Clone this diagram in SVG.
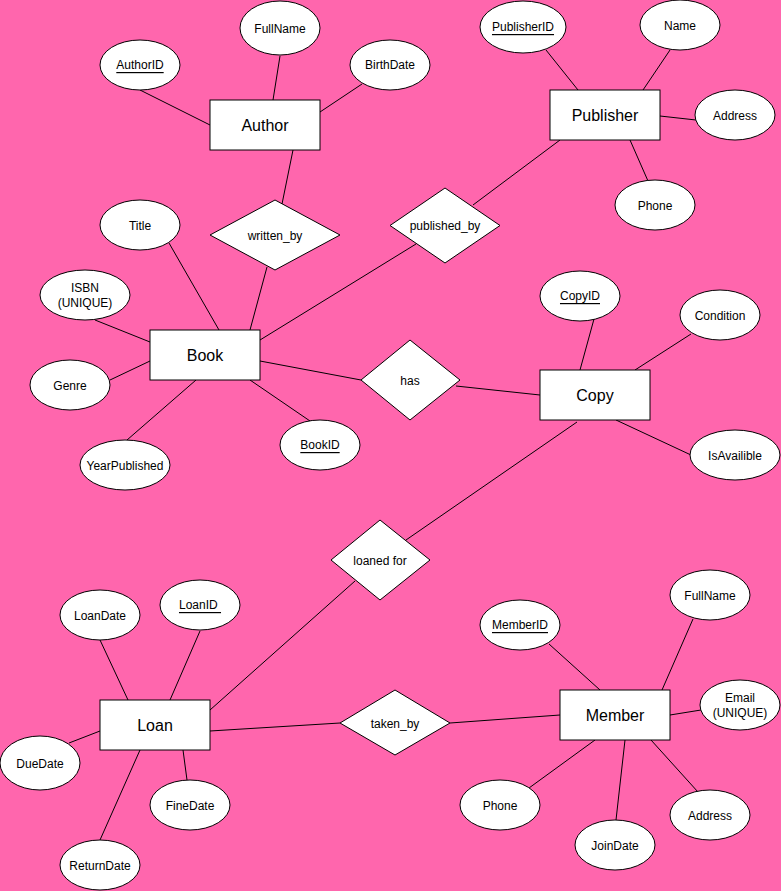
<svg xmlns="http://www.w3.org/2000/svg" width="781" height="891" viewBox="0 0 781 891">
<style>
.e{fill:#fff;stroke:#000;stroke-width:1}
.r{fill:#fff;stroke:#000;stroke-width:1}
.d{fill:#fff;stroke:#000;stroke-width:1}
.c line{stroke:#000;stroke-width:1}
text{font-family:"Liberation Sans",Arial,Helvetica,sans-serif;fill:#000;text-anchor:middle;dominant-baseline:central}
.a{font-size:12px}
.t{font-size:16px}
.u{text-decoration:underline}
</style>
<rect x="0" y="0" width="781" height="891" fill="#ff66ad"/>
<g id="connectors" class="c">
<line x1="140" y1="90" x2="210" y2="125"/>
<line x1="280" y1="56" x2="273" y2="100"/>
<line x1="362" y1="84" x2="320" y2="112"/>
<line x1="293" y1="150" x2="282" y2="204"/>
<line x1="267" y1="267" x2="250" y2="330"/>
<line x1="169" y1="243" x2="219" y2="330"/>
<line x1="260" y1="340" x2="416" y2="244"/>
<line x1="560" y1="140" x2="473" y2="205"/>
<line x1="546" y1="50" x2="578" y2="90"/>
<line x1="670" y1="50" x2="643" y2="90"/>
<line x1="660" y1="116" x2="696" y2="120"/>
<line x1="630" y1="140" x2="648" y2="181"/>
<line x1="95" y1="320" x2="150" y2="342"/>
<line x1="110" y1="380" x2="150" y2="361"/>
<line x1="127" y1="440" x2="196" y2="380"/>
<line x1="310" y1="421" x2="250" y2="380"/>
<line x1="260" y1="361" x2="361" y2="380"/>
<line x1="456" y1="386" x2="540" y2="395"/>
<line x1="594" y1="319" x2="580" y2="370"/>
<line x1="691" y1="334" x2="635" y2="370"/>
<line x1="616" y1="420" x2="691" y2="455"/>
<line x1="577" y1="422" x2="406" y2="540"/>
<line x1="355" y1="581" x2="210" y2="710"/>
<line x1="100" y1="640" x2="128" y2="700"/>
<line x1="200" y1="631" x2="170" y2="700"/>
<line x1="69" y1="743" x2="100" y2="731"/>
<line x1="183" y1="750" x2="187" y2="780"/>
<line x1="140" y1="750" x2="100" y2="840"/>
<line x1="210" y1="731" x2="340" y2="723"/>
<line x1="450" y1="723" x2="560" y2="715"/>
<line x1="549" y1="644" x2="600" y2="690"/>
<line x1="693" y1="619" x2="662" y2="690"/>
<line x1="670" y1="715" x2="701" y2="710"/>
<line x1="595" y1="740" x2="529" y2="788"/>
<line x1="625" y1="740" x2="616" y2="820"/>
<line x1="651" y1="740" x2="698" y2="792"/>
</g>
<g id="author"><rect class="r" x="210" y="100" width="110" height="50"/><text class="t" x="265" y="125">Author</text></g>
<g id="author-id"><ellipse class="e" cx="140" cy="65" rx="40" ry="25"/><text class="a u" x="140" y="65">AuthorID</text></g>
<g id="author-fullname"><ellipse class="e" cx="280" cy="28" rx="40" ry="27"/><text class="a" x="280" y="29">FullName</text></g>
<g id="author-birthdate"><ellipse class="e" cx="390" cy="65" rx="40" ry="25"/><text class="a" x="390" y="65">BirthDate</text></g>
<g id="written-by"><polygon class="d" points="210,235 275,200 340,235 275,270"/><text class="a" x="275" y="236">written_by</text></g>
<g id="publisher"><rect class="r" x="550" y="90" width="110" height="50"/><text class="t" x="605" y="115">Publisher</text></g>
<g id="publisher-id"><ellipse class="e" cx="523" cy="27" rx="43" ry="26"/><text class="a u" x="523" y="27">PublisherID</text></g>
<g id="publisher-name"><ellipse class="e" cx="680" cy="25" rx="40" ry="25"/><text class="a" x="680" y="26">Name</text></g>
<g id="publisher-address"><ellipse class="e" cx="735" cy="115" rx="40" ry="25"/><text class="a" x="735" y="116">Address</text></g>
<g id="publisher-phone"><ellipse class="e" cx="655" cy="205" rx="40" ry="25"/><text class="a" x="655" y="206">Phone</text></g>
<g id="published-by"><polygon class="d" points="390,225.5 445,188 500,225.5 445,263"/><text class="a" x="445" y="226">published_by</text></g>
<g id="book"><rect class="r" x="150" y="330" width="110" height="50"/><text class="t" x="205" y="355">Book</text></g>
<g id="book-title"><ellipse class="e" cx="140" cy="225" rx="40" ry="25"/><text class="a" x="140" y="226">Title</text></g>
<g id="book-isbn"><ellipse class="e" cx="85" cy="295" rx="45" ry="25"/><text class="a" x="85" y="288">ISBN</text><text class="a" x="85" y="303">(UNIQUE)</text></g>
<g id="book-genre"><ellipse class="e" cx="70" cy="385" rx="40" ry="25"/><text class="a" x="70" y="386">Genre</text></g>
<g id="book-year"><ellipse class="e" cx="125" cy="465" rx="45" ry="25"/><text class="a" x="125" y="466">YearPublished</text></g>
<g id="book-id"><ellipse class="e" cx="320" cy="445" rx="40" ry="25"/><text class="a u" x="320" y="445">BookID</text></g>
<g id="has"><polygon class="d" points="361,380 410,340 460,380 410,420"/><text class="a" x="410" y="381">has</text></g>
<g id="copy"><rect class="r" x="540" y="370" width="110" height="50"/><text class="t" x="595" y="395">Copy</text></g>
<g id="copy-id"><ellipse class="e" cx="580" cy="296" rx="40" ry="25"/><text class="a u" x="580" y="296">CopyID</text></g>
<g id="copy-condition"><ellipse class="e" cx="720" cy="315" rx="40" ry="25"/><text class="a" x="720" y="316">Condition</text></g>
<g id="copy-available"><ellipse class="e" cx="735" cy="455" rx="45" ry="25"/><text class="a" x="735" y="456">IsAvailible</text></g>
<g id="loaned-for"><polygon class="d" points="331,560 380,520 430,560 380,600"/><text class="a" x="380" y="561">loaned for</text></g>
<g id="loan"><rect class="r" x="100" y="700" width="110" height="50"/><text class="t" x="155" y="725">Loan</text></g>
<g id="loan-date"><ellipse class="e" cx="100" cy="615" rx="40" ry="25"/><text class="a" x="100" y="616">LoanDate</text></g>
<g id="loan-id"><ellipse class="e" cx="200" cy="605" rx="40" ry="25"/><text class="a u" x="200" y="605">LoanID&#160;</text></g>
<g id="loan-duedate"><ellipse class="e" cx="40" cy="763" rx="40" ry="27"/><text class="a" x="40" y="764">DueDate</text></g>
<g id="loan-finedate"><ellipse class="e" cx="190" cy="805" rx="40" ry="25"/><text class="a" x="190" y="806">FineDate</text></g>
<g id="loan-returndate"><ellipse class="e" cx="100" cy="865" rx="40" ry="25"/><text class="a" x="100" y="866">ReturnDate</text></g>
<g id="taken-by"><polygon class="d" points="340,723 395,690 450,723 395,755"/><text class="a" x="395" y="724">taken_by</text></g>
<g id="member"><rect class="r" x="560" y="690" width="110" height="50"/><text class="t" x="615" y="715">Member</text></g>
<g id="member-id"><ellipse class="e" cx="520" cy="625" rx="40" ry="25"/><text class="a u" x="520" y="625">MemberID</text></g>
<g id="member-fullname"><ellipse class="e" cx="710" cy="595" rx="40" ry="25"/><text class="a" x="710" y="596">FullName</text></g>
<g id="member-email"><ellipse class="e" cx="740" cy="705" rx="40" ry="25"/><text class="a" x="740" y="698">Email</text><text class="a" x="740" y="713">(UNIQUE)</text></g>
<g id="member-phone"><ellipse class="e" cx="500" cy="805" rx="40" ry="25"/><text class="a" x="500" y="806">Phone</text></g>
<g id="member-joindate"><ellipse class="e" cx="615" cy="845" rx="40" ry="25"/><text class="a" x="615" y="846">JoinDate</text></g>
<g id="member-address"><ellipse class="e" cx="710" cy="815" rx="40" ry="25"/><text class="a" x="710" y="816">Address</text></g>
</svg>
